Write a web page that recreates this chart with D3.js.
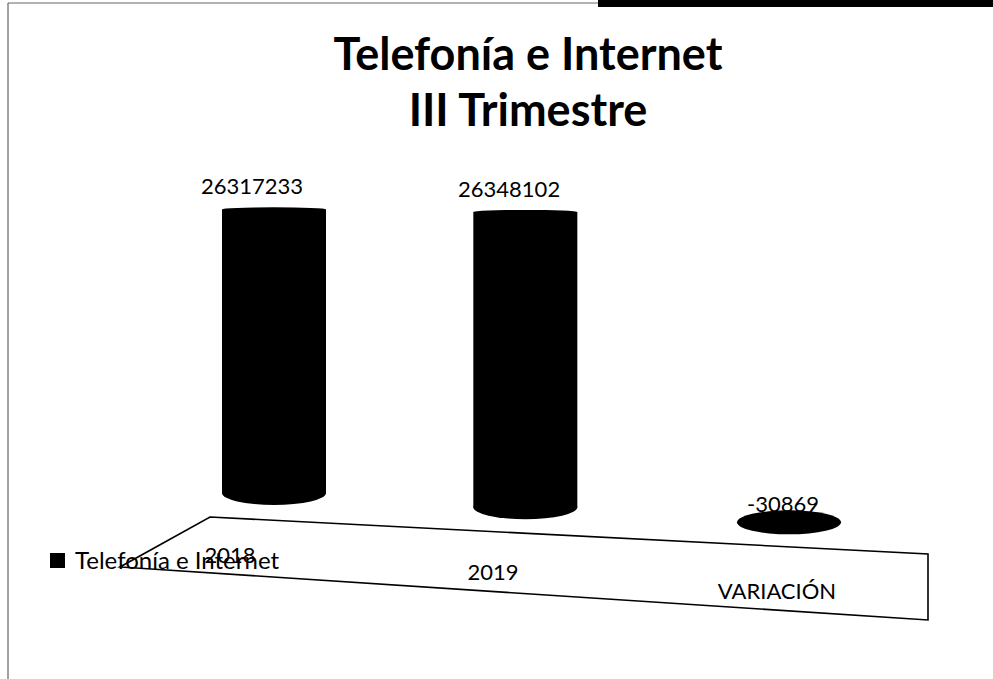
<!DOCTYPE html>
<html lang="es">
<head>
    <meta charset="UTF-8">
    <title>Telefonía e Internet - III Trimestre</title>
    <style>
        body {
            margin: 0;
            background: #fff;
            font-family: Lato, "Open Sans", sans-serif;
        }
        #chart svg {
            display: block;
        }
    </style>
    <script src="https://cdn.jsdelivr.net/npm/d3@7"></script>
</head>
<body>
    <div id="chart"></div>

    <script>
        const titleLines = ["Telefonía e Internet", "III Trimestre"];
        const seriesName = "Telefonía e Internet";
        const categories = ["2018", "2019", "VARIACIÓN"];
        const values = [26317233, 26348102, -30869];
        const valueLabels = ["26317233", "26348102", "-30869"];

        const W = 993, H = 679;

        const svg = d3.select("#chart")
            .append("svg")
            .attr("width", W)
            .attr("height", H);

        svg.append("rect")
            .attr("width", W)
            .attr("height", H)
            .attr("fill", "#fff");

        // scan edges of the page
        svg.append("line")
            .attr("x1", 8).attr("y1", 3).attr("x2", 8).attr("y2", H)
            .attr("stroke", "#444").attr("stroke-width", 1);
        svg.append("line")
            .attr("x1", 8).attr("y1", 3).attr("x2", W).attr("y2", 3)
            .attr("stroke", "#666").attr("stroke-width", 1);
        svg.append("rect")
            .attr("x", 598).attr("y", 0).attr("width", W - 598).attr("height", 7)
            .attr("fill", "#000");

        // title
        svg.append("g")
            .selectAll("text")
            .data(titleLines)
            .join("text")
            .attr("x", 528)
            .attr("y", (d, i) => 70 + i * 56)
            .attr("text-anchor", "middle")
            .attr("font-size", 45)
            .attr("font-weight", "bold")
            .attr("fill", "#000")
            .text(d => d);

        // pseudo 3D layout: category index -> x on the back wall / on the floor front
        const idx = d3.scalePoint().domain(categories).range([0, categories.length - 1]);
        const xBar = d3.scalePow().exponent(1.035).domain([0, 2]).range([274, 789]);
        const xFloor = d3.scalePow().exponent(1.057).domain([0, 2]).range([230, 777]);

        const vMax = d3.max(values);
        const baseY = d3.scaleLinear().domain([274, 789]).range([493, 522]);
        const topY = d3.scaleLinear().domain([274, 789]).range([209, 215]);
        const y = (v, x) => d3.scaleLinear().domain([0, vMax]).range([baseY(x), topY(x)])(v);

        // floor
        const backY = d3.scaleLinear().domain([210, 928]).range([517, 554]);
        const frontY = d3.scaleLinear().domain([120, 928]).range([567, 620]);
        const floor = [[210, backY(210)], [928, backY(928)], [928, frontY(928)], [120, frontY(120)]];

        svg.append("path")
            .attr("d", d3.line()(floor) + "Z")
            .attr("fill", "#fff")
            .attr("stroke", "#000")
            .attr("stroke-width", 1.6);

        // cylinders
        const rx = 52, ryBottom = 12, ryTop = 2;
        const bars = svg.append("g")
            .selectAll("g")
            .data(categories.map((c, i) => ({ c, v: values[i], label: valueLabels[i] })))
            .join("g");

        bars.each(function (d) {
            const g = d3.select(this);
            const cx = xBar(idx(d.c));
            const y0 = baseY(cx);
            const y1 = y(d.v, cx);
            const yT = Math.min(y0, y1), yB = Math.max(y0, y1);
            g.append("rect")
                .attr("x", cx - rx)
                .attr("y", yT)
                .attr("width", rx * 2)
                .attr("height", yB - yT)
                .attr("fill", "#000");
            g.append("ellipse")
                .attr("cx", cx).attr("cy", yB)
                .attr("rx", rx).attr("ry", ryBottom)
                .attr("fill", "#000");
            g.append("ellipse")
                .attr("cx", cx).attr("cy", yT)
                .attr("rx", rx).attr("ry", ryTop)
                .attr("fill", "#000");
            d.cx = cx;
            d.yT = yT;
            d.y0 = y0;
        });

        // value labels
        svg.append("g")
            .selectAll("text")
            .data(bars.data())
            .join("text")
            .attr("x", d => (d.cx + xFloor(idx(d.c))) / 2)
            .attr("y", d => d.v >= 0 ? d.yT - 15 : d.y0 - 10)
            .attr("text-anchor", "middle")
            .attr("font-size", 22)
            .attr("fill", "#000")
            .text(d => d.label);

        // category labels on the floor
        svg.append("g")
            .selectAll("text")
            .data(categories)
            .join("text")
            .attr("x", d => xFloor(idx(d)))
            .attr("y", d => frontY(xFloor(idx(d))) - 11)
            .attr("text-anchor", "middle")
            .attr("font-size", 22)
            .attr("fill", "#000")
            .text(d => d);

        // legend (sits over the floor edge, as in the original)
        const legend = svg.append("g").attr("transform", "translate(50,569)");
        legend.append("rect")
            .attr("x", 0).attr("y", -16)
            .attr("width", 15).attr("height", 15)
            .attr("fill", "#000");
        legend.append("text")
            .attr("x", 25)
            .attr("y", 0)
            .attr("font-size", 24)
            .attr("fill", "#000")
            .text(seriesName);
    </script>
</body>
</html>
